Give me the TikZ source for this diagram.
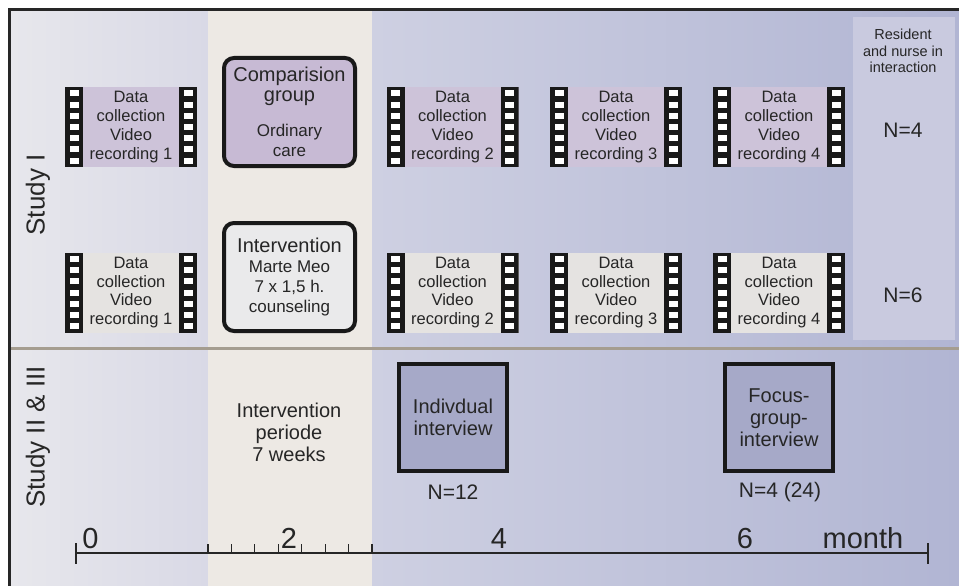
\documentclass[tikz,border=0pt]{standalone}
\usepackage{fontspec}
\setmainfont{Liberation Sans}
\usepackage{tikz}
\definecolor{bg_left}{HTML}{E7E7EC}
\definecolor{bg_left2}{HTML}{D9D9E6}
\definecolor{bg_mid}{HTML}{EDE9E4}
\definecolor{bg_right}{HTML}{CED0E2}
\definecolor{bg_right2}{HTML}{B1B5D3}
\definecolor{res_col}{HTML}{C9CADF}
\definecolor{div_line}{HTML}{A59D90}
\definecolor{film_top}{HTML}{CDC3D9}
\definecolor{film_low}{HTML}{E5E3E1}
\definecolor{box_cmp}{HTML}{C7BAD4}
\definecolor{box_int}{HTML}{EAEAEB}
\definecolor{box_iv}{HTML}{A6A9C8}
\definecolor{txt_dark}{HTML}{262626}
\newcommand{\smalltxt}{\fontsize{17}{19.5}\selectfont}

\begin{document}
\begin{tikzpicture}[x=1pt, y=-1pt, text=txt_dark,
      film/.style={minimum width=132pt, minimum height=80pt, inner sep=0pt, align=center,
        font=\fontsize{16.5}{18.7}\selectfont,
        path picture={
          \fill[black!90] (path picture bounding box.north west) rectangle ++(18pt,-80pt);
          \fill[black!90] (path picture bounding box.north east) rectangle ++(-18pt,-80pt);
          \foreach \h in {0,...,6} {
            \fill[white] ([shift={(4.5pt,{-3.4pt-\h*11.2pt})}]path picture bounding box.north west) rectangle ++(9pt,-6pt);
            \fill[white] ([shift={(-13.5pt,{-3.4pt-\h*11.2pt})}]path picture bounding box.north east) rectangle ++(9pt,-6pt);
          }}},
      grp/.style={draw=black!90, line width=4pt, rounded corners=10pt, align=center,
        minimum width=131pt, minimum height=108pt, inner sep=0pt,
        font=\fontsize{20}{20}\selectfont},
      ivbox/.style={draw=black!90, line width=3.5pt, fill=box_iv, align=center,
        minimum width=108pt, minimum height=107pt, inner sep=0pt,
        font=\fontsize{20}{22}\selectfont},
      lbl/.style={align=center, inner sep=0pt, font=\fontsize{20}{22}\selectfont},
      num/.style={inner sep=0pt, font=\fontsize{21}{21}\selectfont},
      axl/.style={anchor=base, inner sep=0pt, font=\fontsize{29}{29}\selectfont}]
    \useasboundingbox (0,0) rectangle (959,586);
    % background columns
    \shade[left color=bg_left, right color=bg_left2] (10,10) rectangle (208,586);
    \fill[bg_mid] (208,10) rectangle (372,586);
    \shade[left color=bg_right, right color=bg_right2] (372,10) rectangle (959,586);
    \fill[res_col] (853,17) rectangle (955,340);
    \draw[div_line, line width=3pt] (10,348) -- (959,348);
    \draw[black!85, line width=2.5pt] (9.5,586) -- (9.5,9.5) -- (959,9.5);
    % study labels
    \node[rotate=90, font=\fontsize{26}{26}\selectfont] (st1) at (38,195) {Study I};
    \node[rotate=90, font=\fontsize{26}{26}\selectfont] (st2) at (38,437) {Study II \& III};
    % video recordings
    \foreach \nm/\xx/\r in {a1/131/1, a2/452.5/2, a3/616/3, a4/779/4}
      \node[film, fill=film_top] (\nm) at (\xx,127) {Data\\collection\\Video\\recording \r};
    \foreach \nm/\xx/\r in {b1/131/1, b2/452.5/2, b3/616/3, b4/779/4}
      \node[film, fill=film_low] (\nm) at (\xx,292.5) {Data\\collection\\Video\\recording \r};
    % groups
    \node[grp, fill=box_cmp] (cmp) at (289.5,112)
      {Comparision\\group\\[15pt]\smalltxt Ordinary\\\smalltxt care};
    \node[grp, fill=box_int] (int) at (289.5,277)
      {Intervention\\\smalltxt Marte Meo\\\smalltxt 7 x 1,5 h.\\\smalltxt counseling};
    % right column
    \node[lbl, font=\fontsize{14.5}{16.8}\selectfont] (res) at (903,51)
      {Resident\\and nurse in\\interaction};
    \node[num] (n4) at (903,130) {N=4};
    \node[num] (n6) at (903,295) {N=6};
    % study II & III
    \node[lbl] (per) at (289,432) {Intervention\\periode\\7 weeks};
    \node[ivbox] (iv1) at (453,417.5) {Indivdual\\interview};
    \node[ivbox] (iv2) at (779,417.5) {Focus-\\group-\\interview};
    \node[num] (n12) at (453,492) {N=12};
    \node[num] (n24) at (780,492) {N=4 (24)};
    % time axis
    \coordinate (t0) at (76,553);
    \coordinate (t1) at (928,553);
    \draw[black!85, line width=2.5pt] (t0) -- (t1);
    \draw[black!85, line width=2.5pt] (76,543) -- (76,564) (928,543) -- (928,564);
    \foreach \k in {0,...,7} \draw[black!85, line width=1.2pt] ({208+\k*23.43},544) -- ({208+\k*23.43},553);
    \node[axl] (m0) at (90.5,548) {0};
    \node[axl] (m2) at (289,548) {2};
    \node[axl] (m4) at (499,548) {4};
    \node[axl] (m6) at (745,548) {6};
    \node[axl] (mth) at (863,548) {month};
  \end{tikzpicture}
\end{document}
